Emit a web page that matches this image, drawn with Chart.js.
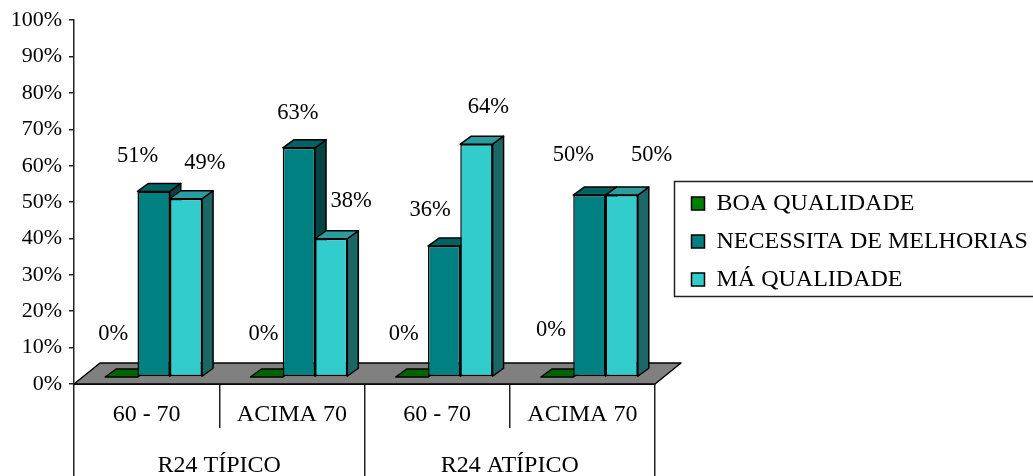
<!DOCTYPE html>
<html>
<head>
<meta charset="utf-8">
<style>
  html, body { margin: 0; padding: 0; background: #fff; }
  canvas { display: block; }
</style>
<script src="https://cdn.jsdelivr.net/npm/chart.js@4"></script>
</head>
<body>
<canvas id="chart" width="1033" height="476"></canvas>
<script>
// Quality of the R24 recall by age band
const ageBands = ['60 - 70', 'ACIMA 70', '60 - 70', 'ACIMA 70'];
const recallGroups = ['R24 TÍPICO', 'R24 ATÍPICO'];
const seriesNames = ['BOA QUALIDADE', 'NECESSITA DE MELHORIAS', 'MÁ QUALIDADE'];
const boaQualidade = [0, 0, 0, 0];
const necessitaMelhorias = [51, 63, 36, 50];
const maQualidade = [49, 38, 64, 50];

// Face colours of the extruded columns: front, top, side
const faceColors = [
  ['#008000', '#006400', '#004d00'],
  ['#008080', '#006363', '#044444'],
  ['#33CCCC', '#2A9E9E', '#1C6666']
];

const FONT = '"Liberation Serif", "Times New Roman", serif';
const Y_FONT_SIZE = 22;
const VALUE_FONT_SIZE = 22.5;
const TEXT_FONT_SIZE = 24;
const INK = '#000';
const AXIS_INK = '#222';

// Columns stand in the middle of the floor, which is deeper than they are
const columnShift = { x: 7, y: -7 };
const columnDepth = { x: 11, y: 8 };
const floorDepth = { x: 26, y: 21 };

// Per-label nudge from the top of each column, [series][category] = [dx, dy]
const labelNudges = [
  [[-8, -43], [-3, -43], [-8, -43], [-6, -47]],
  [[-16, -35], [-1, -35], [-14, -36], [-16, -40]],
  [[19, -36], [20, -38], [12, -37], [30, -40]]
];

function polygon(ctx, points, fill) {
  ctx.beginPath();
  points.forEach((p, i) => (i ? ctx.lineTo(p[0], p[1]) : ctx.moveTo(p[0], p[1])));
  ctx.closePath();
  ctx.fillStyle = fill;
  ctx.fill();
  ctx.stroke();
}

const extrudedColumns = {
  id: 'extrudedColumns',
  afterLayout(chart) {
    // Park the legend to the right of the plot
    const legend = chart.legend;
    legend.left = 677.5;
    legend.top = 177.5;
    legend.right = 1033;
    legend.bottom = 340;
  },
  beforeDatasetsDraw(chart) {
    const { ctx, chartArea: a } = chart;
    ctx.save();
    ctx.lineWidth = 1.5;
    ctx.strokeStyle = INK;
    ctx.lineJoin = 'round';
    polygon(ctx, [
      [a.left, a.bottom],
      [a.right, a.bottom],
      [a.right + floorDepth.x, a.bottom - floorDepth.y],
      [a.left + floorDepth.x, a.bottom - floorDepth.y]
    ], '#808080');

    // Painter's order: series run left to right so nearer faces cover farther ones
    ctx.translate(columnShift.x, columnShift.y);
    chart.data.datasets.forEach((dataset, s) => {
      const meta = chart.getDatasetMeta(s);
      const colors = faceColors[s];
      ctx.lineWidth = 1.5;
      ctx.strokeStyle = INK;
      meta.data.forEach((bar) => {
        const l = bar.x - bar.width / 2;
        const r = bar.x + bar.width / 2;
        const t = bar.y;
        const b = bar.base;
        const dx = columnDepth.x;
        const dy = columnDepth.y;
        polygon(ctx, [[r, t], [r + dx, t - dy], [r + dx, b - dy], [r, b]], colors[2]);
        polygon(ctx, [[l, t], [l + dx, t - dy], [r + dx, t - dy], [r, t]], colors[1]);
      });
      meta.controller.draw();
    });
    ctx.restore();
  },
  beforeDatasetDraw() {
    // Already painted in beforeDatasetsDraw
    return false;
  },
  afterDatasetsDraw(chart) {
    const ctx = chart.ctx;
    ctx.save();
    ctx.font = VALUE_FONT_SIZE + 'px ' + FONT;
    ctx.fillStyle = INK;
    ctx.textAlign = 'center';
    ctx.textBaseline = 'middle';
    chart.data.datasets.forEach((dataset, s) => {
      chart.getDatasetMeta(s).data.forEach((bar, c) => {
        const nudge = labelNudges[s][c];
        ctx.fillText(dataset.data[c] + '%', bar.x + columnShift.x + nudge[0], bar.y + columnShift.y + nudge[1]);
      });
    });
    ctx.restore();
  },
  afterDraw(chart) {
    // Frame around the legend, running off the right edge
    const ctx = chart.ctx;
    ctx.save();
    ctx.strokeStyle = AXIS_INK;
    ctx.lineWidth = 1.5;
    ctx.strokeRect(674.5, 181.5, 370, 115);
    ctx.restore();
  }
};

const axisFont = { family: FONT, size: TEXT_FONT_SIZE };

new Chart(document.getElementById('chart'), {
  type: 'bar',
  plugins: [extrudedColumns],
  data: {
    labels: ageBands,
    datasets: [boaQualidade, necessitaMelhorias, maQualidade].map((values, i) => ({
      label: seriesNames[i],
      data: values,
      backgroundColor: faceColors[i][0],
      borderColor: INK,
      borderWidth: 1.5,
      borderSkipped: false
    }))
  },
  options: {
    responsive: false,
    animation: false,
    layout: { padding: { top: 18, right: 378, left: 0, bottom: 0 } },
    datasets: { bar: { categoryPercentage: 0.667, barPercentage: 1 } },
    scales: {
      x: {
        grid: { drawOnChartArea: false, tickLength: 44, color: AXIS_INK, lineWidth: 1.5, offset: true },
        border: { display: true, color: AXIS_INK, width: 2 },
        ticks: { color: INK, font: axisFont, padding: -28, maxRotation: 0, autoSkip: false },
        afterFit(scale) { scale.height = 44; }
      },
      xGroup: {
        axis: 'x',
        type: 'category',
        position: 'bottom',
        labels: recallGroups,
        offset: true,
        grid: { drawOnChartArea: false, tickLength: 48, color: AXIS_INK, lineWidth: 1.5, offset: true },
        border: { display: false },
        ticks: { color: INK, font: axisFont, padding: -25, maxRotation: 0, autoSkip: false },
        afterFit(scale) { scale.height = 48; }
      },
      y: {
        min: 0,
        max: 100,
        grid: { drawOnChartArea: false, tickLength: 5, color: AXIS_INK, lineWidth: 1.5 },
        border: { display: true, color: AXIS_INK, width: 1.5 },
        ticks: { stepSize: 10, color: INK, font: { family: FONT, size: Y_FONT_SIZE }, padding: 7, callback: (v) => v + '%' },
        afterFit(scale) { scale.width = 74; }
      }
    },
    plugins: {
      tooltip: { enabled: false },
      legend: {
        position: 'chartArea',
        align: 'start',
        labels: {
          color: INK,
          font: axisFont,
          boxWidth: 13,
          boxHeight: 13,
          padding: 14
        }
      }
    }
  }
});
</script>
</body>
</html>
